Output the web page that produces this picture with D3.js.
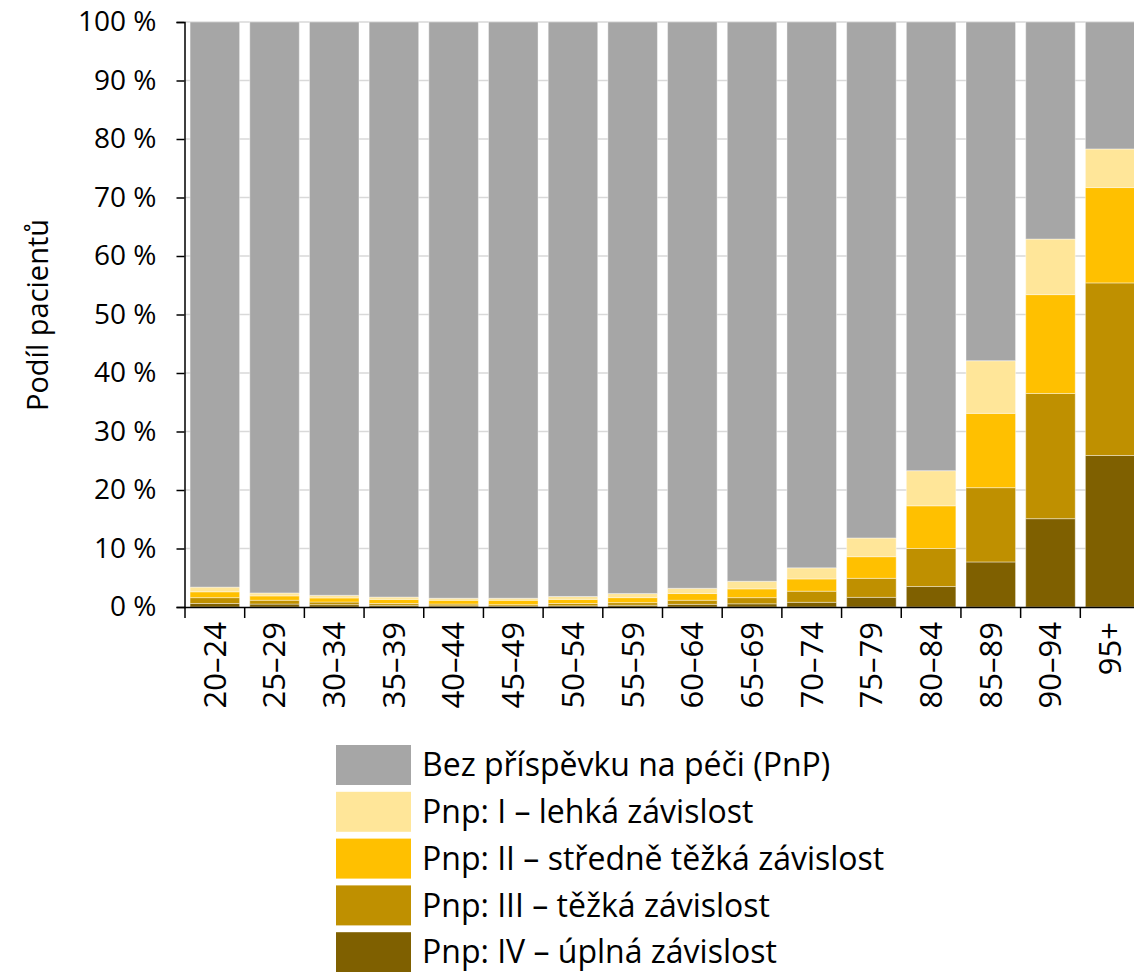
<!DOCTYPE html>
<html>
<head>
<meta charset="utf-8">
<script src="https://cdn.jsdelivr.net/npm/d3@7"></script>
<style>
  body { margin: 0; background: #fff; }
  svg text { font-family: "Open Sans", sans-serif; fill: #000; }
</style>
</head>
<body>
<div id="chart"></div>
<script>
let width = 1134;
let height = 972;

// age groups and shares of patients (%) per care allowance level
const categories = ["20–24", "25–29", "30–34", "35–39", "40–44", "45–49", "50–54", "55–59",
    "60–64", "65–69", "70–74", "75–79", "80–84", "85–89", "90–94", "95+"];
const pnpIV = [0.6, 0.5, 0.4, 0.3, 0.2, 0.15, 0.2, 0.3, 0.45, 0.55, 0.8, 1.65, 3.5, 7.7, 15.1, 25.9];
const pnpIII = [1.0, 0.65, 0.45, 0.3, 0.3, 0.25, 0.4, 0.45, 0.7, 1.05, 1.9, 3.25, 6.5, 12.7, 21.4, 29.5];
const pnpII = [1.0, 0.75, 0.7, 0.7, 0.65, 0.75, 0.7, 0.85, 1.15, 1.5, 2.1, 3.7, 7.3, 12.7, 16.9, 16.3];
const pnpI = [0.8, 0.5, 0.45, 0.4, 0.35, 0.35, 0.5, 0.7, 0.9, 1.3, 1.9, 3.2, 6.0, 9.0, 9.5, 6.6];
const bez = [96.6, 97.6, 98.0, 98.3, 98.5, 98.5, 98.2, 97.7, 96.8, 95.6, 93.3, 88.2, 76.7, 57.9, 37.1, 21.7];
const yTicks = [0, 10, 20, 30, 40, 50, 60, 70, 80, 90, 100];

const keys = ["iv", "iii", "ii", "i", "bez"];
const labels = {
    bez: "Bez příspěvku na péči (PnP)",
    i: "Pnp: I – lehká závislost",
    ii: "Pnp: II – středně těžká závislost",
    iii: "Pnp: III – těžká závislost",
    iv: "Pnp: IV – úplná závislost"
};
const colors = { bez: "#a6a6a6", i: "#ffe699", ii: "#ffc000", iii: "#bf9000", iv: "#7f6000" };

let rows = categories.map((c, i) => ({
    cat: c, iv: pnpIV[i], iii: pnpIII[i], ii: pnpII[i], i: pnpI[i], bez: bez[i]
}));

let svg = d3.select("#chart")
    .append("svg")
    .attr("width", width)
    .attr("height", height);

let xScale = d3.scaleBand()
    .domain(categories)
    .range([185, 1140])
    .paddingInner(0.17)
    .paddingOuter(0.085);

let yScale = d3.scaleLinear()
    .domain([0, 100])
    .range([607, 22]);

// gridlines
svg.append("g")
    .selectAll("line")
    .data(yTicks.filter(t => t > 0))
    .enter()
    .append("line")
    .attr("x1", 185)
    .attr("x2", 1140)
    .attr("y1", d => yScale(d))
    .attr("y2", d => yScale(d))
    .attr("stroke", "#d9d9d9")
    .attr("stroke-width", 1.5);

// stacked bars
let series = d3.stack().keys(keys)(rows);
svg.append("g")
    .selectAll("g")
    .data(series)
    .enter()
    .append("g")
    .attr("fill", d => colors[d.key])
    .selectAll("rect")
    .data(d => d)
    .enter()
    .append("rect")
    .attr("x", d => xScale(d.data.cat))
    .attr("width", xScale.bandwidth())
    .attr("y", d => yScale(d[1]))
    .attr("height", d => yScale(d[0]) - yScale(d[1]))
    .attr("stroke", "rgba(255,255,255,0.4)")
    .attr("stroke-width", 1);

// y axis
let yAxis = d3.axisLeft(yScale)
    .tickValues(yTicks)
    .tickSize(8)
    .tickPadding(20)
    .tickFormat(t => t + " %");
let gy = svg.append("g")
    .attr("transform", "translate(184.5,0)")
    .call(yAxis);
gy.select(".domain").attr("stroke", "#000").attr("stroke-width", 1.5);
gy.selectAll(".tick line").attr("stroke", "#000").attr("stroke-width", 1.5);
gy.selectAll("text").style("font-size", "28px");

// x axis: line, boundary ticks, rotated labels
let gx = svg.append("g");
let step = xScale.step();
let gap = step - xScale.bandwidth();
gx.append("line")
    .attr("x1", 184)
    .attr("x2", 1140)
    .attr("y1", 607.5)
    .attr("y2", 607.5)
    .attr("stroke", "#000")
    .attr("stroke-width", 1.5);
gx.selectAll(".btick")
    .data(categories)
    .enter()
    .append("line")
    .attr("class", "btick")
    .attr("x1", d => xScale(d) - gap / 2)
    .attr("x2", d => xScale(d) - gap / 2)
    .attr("y1", 607)
    .attr("y2", 618)
    .attr("stroke", "#000")
    .attr("stroke-width", 1.5);
gx.selectAll(".xlabel")
    .data(categories)
    .enter()
    .append("text")
    .attr("class", "xlabel")
    .attr("transform", d => "translate(" + (xScale(d) + xScale.bandwidth() / 2) + ",622) rotate(-90)")
    .attr("text-anchor", "end")
    .attr("dy", "0.35em")
    .style("font-size", "31px")
    .text(d => d);

// y title
svg.append("text")
    .attr("transform", "translate(38,315) rotate(-90)")
    .attr("text-anchor", "middle")
    .attr("dy", "0.35em")
    .style("font-size", "29px")
    .text("Podíl pacientů");

// legend
let legendKeys = ["bez", "i", "ii", "iii", "iv"];
let legend = svg.append("g")
    .selectAll("g")
    .data(legendKeys)
    .enter()
    .append("g")
    .attr("transform", (d, i) => "translate(336," + (745 + i * 46.8) + ")");
legend.append("rect")
    .attr("width", 75)
    .attr("height", 40)
    .attr("fill", d => colors[d]);
legend.append("text")
    .attr("x", 86)
    .attr("y", 20)
    .attr("dy", "0.35em")
    .style("font-size", "32px")
    .text(d => labels[d]);
</script>
</body>
</html>
